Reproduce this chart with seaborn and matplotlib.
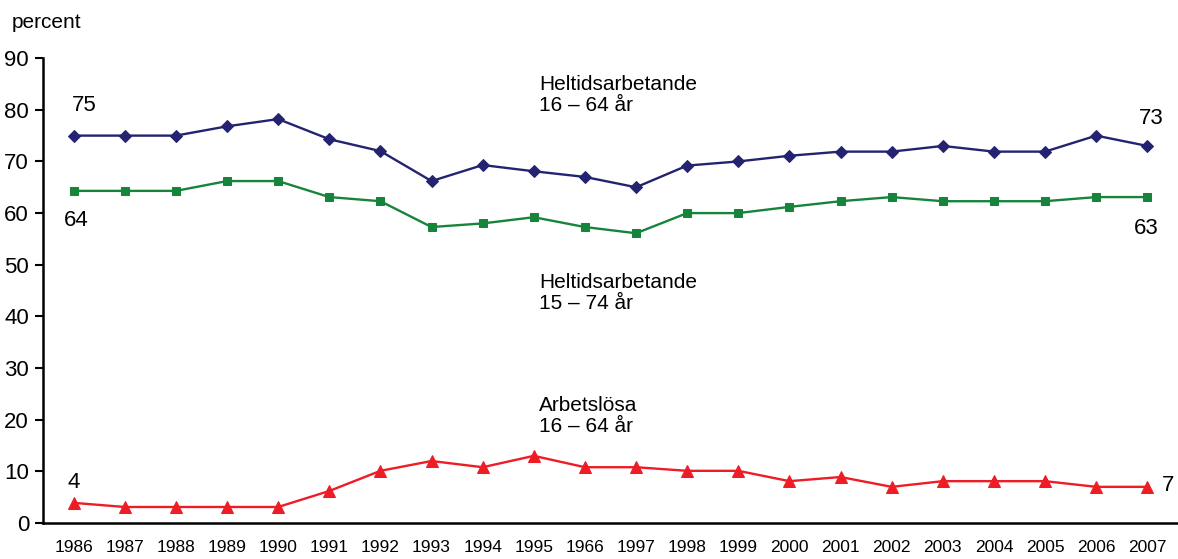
import pandas as pd
import matplotlib.pyplot as plt
import seaborn as sns

# Year labels as printed in the original (including its "1966" typo)
years = ['1986', '1987', '1988', '1989', '1990', '1991', '1992', '1993', '1994', '1995', '1966',
         '1997', '1998', '1999', '2000', '2001', '2002', '2003', '2004', '2005', '2006', '2007']

full_16_64 = [75, 75, 75, 76.8, 78.2, 74.3, 72, 66.2, 69.3, 68.1, 67, 65, 69.2, 70, 71.1, 71.9,
              71.9, 73, 71.9, 71.9, 75, 73]
full_15_74 = [64.3, 64.3, 64.3, 66.2, 66.2, 63.1, 62.3, 57.3, 58, 59.2, 57.3, 56.1, 60, 60, 61.2,
              62.3, 63.1, 62.3, 62.3, 62.3, 63.1, 63.1]
unemployed = [3.9, 3.1, 3.1, 3.1, 3.1, 6.2, 10.1, 12, 10.8, 13, 10.8, 10.8, 10.1, 10.1, 8.1, 8.9,
              7, 8.1, 8.1, 8.1, 7, 7]

sns.set_style('ticks')
plt.rcParams['font.family'] = ['Liberation Sans', 'DejaVu Sans']
plt.rcParams['text.color'] = 'black'
plt.rcParams['xtick.color'] = 'black'
plt.rcParams['ytick.color'] = 'black'

fig = plt.figure(figsize=(11.78, 5.59), dpi=100)
ax = fig.add_axes([0.0365, 0.0644, 0.9635, 0.8316])

idx = list(range(len(years)))
series = [
    (full_16_64, '#232371', 'D', 6),
    (full_15_74, '#17843C', 's', 6),
    (unemployed, '#EE1C25', '^', 8),
]
for vals, col, mk, ms in series:
    df = pd.DataFrame({'x': idx, 'y': vals})
    sns.lineplot(data=df, x='x', y='y', ax=ax, color=col, marker=mk, markersize=ms,
                 markeredgecolor=col, linewidth=1.7)

ax.set_xlim(-0.6, 21.6)
ax.set_ylim(0, 90)
ax.set_yticks(range(0, 91, 10))
ax.tick_params(axis='y', labelsize=16, length=6, width=1.5, direction='out', pad=4)
ax.set_xticks(idx)
ax.set_xticklabels(years, family=['Liberation Sans Narrow', 'Liberation Sans'], fontsize=12.5)
ax.tick_params(axis='x', length=0, pad=12)
ax.set_xlabel('')
ax.set_ylabel('')
for s in ['top', 'right']:
    ax.spines[s].set_visible(False)
for s in ['left', 'bottom']:
    ax.spines[s].set_linewidth(1.8)
    ax.spines[s].set_color('black')

fig.text(0.01, 0.96, 'percent', fontsize=15, ha='left', va='center')

fs = 15
ax.text(9.1, 82.8, 'Heltidsarbetande\n16 – 64 år', fontsize=fs, ha='left', va='center', linespacing=1.15)
ax.text(9.1, 44.5, 'Heltidsarbetande\n15 – 74 år', fontsize=fs, ha='left', va='center', linespacing=1.15)
ax.text(9.1, 20.7, 'Arbetslösa\n16 – 64 år', fontsize=fs, ha='left', va='center', linespacing=1.15)

ax.text(0.2, 80.9, '75', fontsize=16, ha='center', va='center')
ax.text(0.06, 58.6, '64', fontsize=16, ha='center', va='center')
ax.text(21.08, 78.4, '73', fontsize=16, ha='center', va='center')
ax.text(20.98, 57.1, '63', fontsize=16, ha='center', va='center')
ax.text(0.0, 7.9, '4', fontsize=16, ha='center', va='center')
ax.text(21.4, 7.2, '7', fontsize=16, ha='center', va='center')

fig.savefig('out.png', dpi=100)
